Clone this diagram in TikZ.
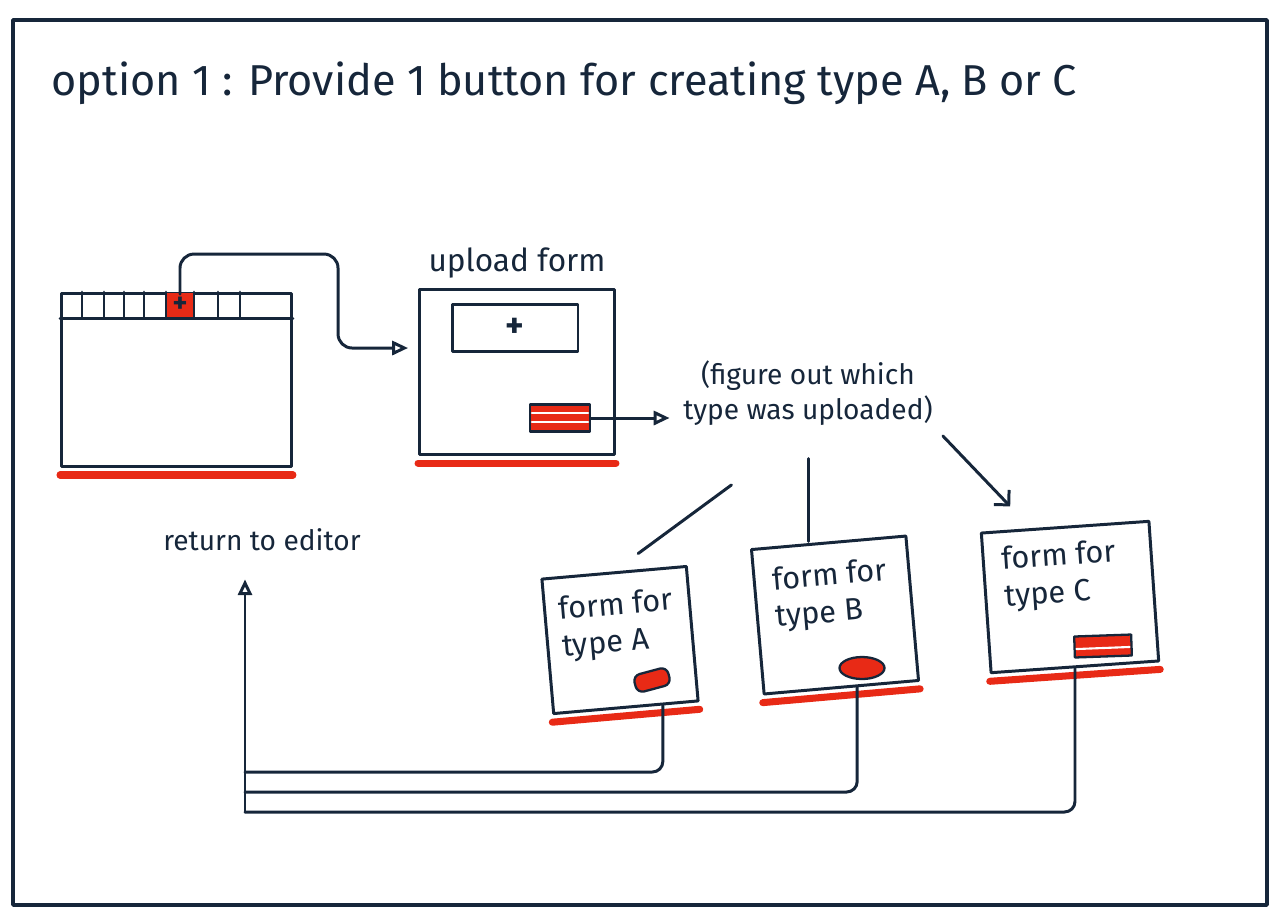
\documentclass[tikz,border=0pt]{standalone}
\usepackage{fontspec}
\setmainfont{Fira Sans}
\usepackage{tikz}
\usetikzlibrary{arrows.meta, positioning, calc, shapes.geometric}
\definecolor{inkblue}{RGB}{22, 38, 58}
\definecolor{penred}{RGB}{232, 42, 22}

\begin{document}
\begin{tikzpicture}[x=0.02cm, y=-0.02cm, color=inkblue, line width=1.7pt, line join=round, line cap=round,
  sheet/.style={draw, fill=white, inner sep=0pt},
  hand/.style={font=\fontsize{16}{20}\selectfont, align=left, inner sep=1pt},
  formtext/.style={hand, font=\fontsize{17.5}{21}\selectfont, anchor=north west},
  redshade/.style={penred, line width=4pt},
  redbtn/.style={draw, fill=penred, line width=1.3pt, inner sep=0pt},
  flow/.style={-{Triangle[open, length=9pt, width=8pt]}}]
\useasboundingbox (0,0) rectangle (1280,914);
\draw[line width=2pt] (13,20) rectangle (1267,905);

% title
\node[anchor=base west, inner sep=0pt, font=\fontsize{24.6}{28}\selectfont] (title) at (50,95) {option 1 : Provide 1 button for creating type A, B or C};

% editor window with toolbar
\node[sheet, anchor=north west, minimum width=4.6cm, minimum height=3.46cm] (editor) at (60,292) {};
\draw[redshade] ([yshift=-4pt]editor.south west) -- ([yshift=-4pt]editor.south east);
\fill[penred] ($(editor.north west)+(106,1)$) rectangle ($(editor.north west)+(134,25)$);
\draw ($(editor.north west)+(0,26)$) -- ($(editor.north east)+(0,26)$);
\foreach \x in {22,44,64,84,106,134,158,180}
  \draw ($(editor.north west)+(\x,0)$) -- ++(0,26);
\node[font=\bfseries\fontsize{16}{16}\selectfont, inner sep=1pt] (plusbtn) at ($(editor.north west)+(120,13)$) {+};

% upload form
\node[sheet, minimum width=3.9cm, minimum height=3.3cm] (upload) at (517,372) {};
\draw[redshade] ([yshift=-4pt]upload.south west) -- ([yshift=-4pt]upload.south east);
\node[hand, font=\fontsize{18}{20}\selectfont, above=4pt of upload] (uploadlbl) {upload form};
\node[sheet, minimum width=2.52cm, minimum height=0.94cm, font=\bfseries\fontsize{20}{20}\selectfont] (field) at (515,328) {+};
\node[redbtn, minimum width=1.2cm, minimum height=0.54cm] (uploadbtn) at (560,418) {};
\draw[white, line width=1.2pt] ($(uploadbtn.west)+(3,-5)$) -- ($(uploadbtn.east)+(-3,-5)$);
\draw[white, line width=1.2pt] ($(uploadbtn.west)+(3,4)$) -- ($(uploadbtn.east)+(-3,4)$);
\draw[flow, rounded corners=8] (plusbtn.north) -- ++(0,-40) -| ($(upload.west)+(-80,-24)$) -- ($(upload.west)+(-10,-24)$);

% check type
\node[hand, align=center] (figure) at (808,393) {(figure out which\\type was uploaded)};
\draw[flow, shorten >=6pt] (uploadbtn.east) -- (figure.west |- uploadbtn.east);

% one form per type
\node[sheet, rotate=5, minimum width=2.9cm, minimum height=2.7cm] (formA) at (620,640) {};
\node[sheet, rotate=5, minimum width=3.1cm, minimum height=2.9cm] (formB) at (835,615) {};
\node[sheet, rotate=4, minimum width=3.36cm, minimum height=2.8cm] (formC) at (1070,597) {};
\draw[redshade] ([yshift=-4pt]formA.south west) -- ([yshift=-4pt]formA.south east);
\draw[redshade] ([yshift=-4pt]formB.south west) -- ([yshift=-4pt]formB.south east);
\draw[redshade] ([yshift=-4pt]formC.south west) -- ([yshift=-4pt]formC.south east);
\node[formtext, rotate=5] (textA) at ($(formA.north west)+(14,16)$) {form for\\type A};
\node[formtext, rotate=5] (textB) at ($(formB.north west)+(18,16)$) {form for\\type B};
\node[formtext, rotate=4] (textC) at ($(formC.north west)+(18,12)$) {form for\\type C};
\node[redbtn, rounded corners=4pt, rotate=15, minimum width=0.7cm, minimum height=0.36cm] (btnA) at (652,680) {};
\node[redbtn, ellipse, minimum width=0.9cm, minimum height=0.44cm] (btnB) at (862,668) {};
\node[redbtn, rotate=2, minimum width=1.14cm, minimum height=0.42cm] (btnC) at (1103,646) {};
\draw[white, line width=1.2pt] ($(btnC.west)+(3,2)$) -- ($(btnC.east)+(-3,2)$);

\draw[shorten <=1.9cm, shorten >=0.6cm] (figure.south) -- (formA.north);
\draw[shorten <=0.6cm] (figure.south) -- (figure.south |- formB.north);
\draw[-{Straight Barb[length=6pt]}, shorten <=0.2cm, shorten >=0.6cm] (figure.south east) -- ($(formC.north west)!0.3!(formC.north east)$);

% back to the editor
\node[hand] (retlbl) at (262,540) {return to editor};
\coordinate (retA) at ($(formA.south)!0.5!(formA.south east)$);
\coordinate (retB) at ($(formB.south)!0.2!(formB.south east)$);
\coordinate (retC) at (formC.south);
\coordinate (busA) at (245,772);
\coordinate (busB) at (245,792);
\coordinate (busC) at (245,812);
\draw[rounded corners=6] (retA) |- (busA);
\draw[rounded corners=6] (retB) |- (busB);
\draw[rounded corners=6] (retC) |- (busC);
\draw[flow, shorten >=0.5cm] (busC) -- (busC |- retlbl.south);
\end{tikzpicture}
\end{document}
